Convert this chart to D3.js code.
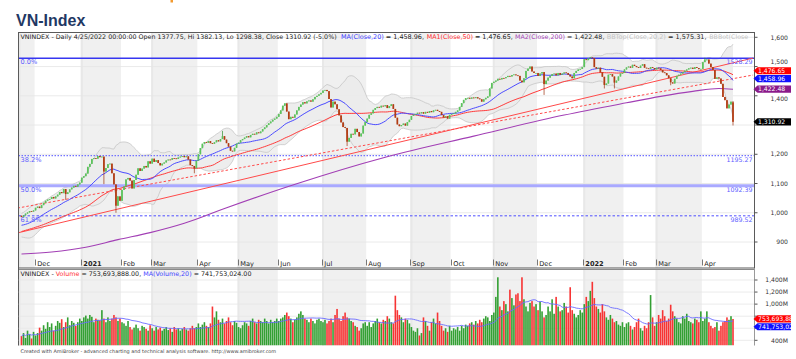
<!DOCTYPE html>
<html><head><meta charset="utf-8">
<script src="https://cdn.jsdelivr.net/npm/d3@7/dist/d3.min.js"></script>
<style>html,body{margin:0;padding:0;background:#fff;}svg{display:block;}</style>
</head><body>
<svg id="chart" width="796" height="359"></svg>
<script>
// ---------------- DATA ----------------
// closes before the visible window (used only to compute MA20/MA50/Bollinger)
const preCloses=[885,889,894,898,902,905,904,900,907,910,908,906,903,905,909,907,
912,916,920,924,930,935,940,944,946,950,948,955,960,958,962,964,961,955,948,940,930,925,
927,933,941,948,955,960,965,972,978,985,983,990];
// daily closes, 20 Nov 2020 .. 25 Apr 2022
const closes=[
985,991,997,1001,1006,1004,1008,
1017,1021,1016,1026,1034,1041,1045,1047,1054,1049,1056,1062,1071,1067,1081,1064,1070,1080,1086,1092,1089,1097,1103,
1120,1125,1134,1157,1167,1184,1187,1185,1194,1190,1192,1141,1153,1166,1168,1135,1097,1024,1056,1041,
1078,1090,1114,1119,1110,1083,1112,1130,1152,1143,1151,1160,1155,1176,1168,
1185,1174,1180,1170,1162,1168,1172,1179,1182,1181,1187,1186,1184,1189,1192,1194,1190,1193,1182,1163,1160,1152,1178,
1200,1221,1236,1242,1239,1245,1238,1236,1241,1248,1244,1252,1262,1250,1238,1226,1212,1210,1222,1236,
1240,1248,1252,1257,1262,1258,1266,1270,1268,1275,1272,1278,1286,1292,1300,1306,1312,1318,1322,1328,
1338,1350,1366,1374,1346,1320,1328,1325,1336,1350,1362,1370,1378,1374,1381,1384,1380,1388,1396,1400,1405,1410,
1418,1420,1416,1389,1360,1380,1371,1354,1333,1309,1293,1290,1243,1256,1270,1268,1287,1276,1261,1271,1298,1310,
1322,1335,1340,1352,1358,1362,1360,1366,1364,1368,1358,1365,1371,1355,1325,1302,1296,1300,1305,1298,1310,1318,
1331,1335,1338,1342,1340,1344,1339,1345,1342,1348,1344,1350,1352,1348,1345,1334,1326,1330,1322,1335,
1338,1340,1345,1350,1362,1375,1386,1392,1393,1390,1394,1392,1395,1391,1388,1380,1388,1393,1398,1425,1444,
1448,1452,1458,1456,1461,1460,1464,1468,1466,1471,1473,1470,1468,1452,1446,1460,1485,1493,1500,1483,1478,1478,
1468,1476,1481,1440,1452,1462,1468,1474,1476,1470,1478,1472,1476,1480,1478,1472,1466,1460,1478,1485,1490,1492,1498,
1525,1522,1528,1531,1529,1498,1493,1496,1480,1465,1437,1442,1472,1474,1466,1445,1452,1466,1476,1478,
1490,1497,1500,1496,1506,1502,1498,1495,1503,1508,1496,1494,1492,1498,1495,1490,
1496,1494,1488,1480,1478,1470,1460,1446,1442,1458,1468,1472,1476,1481,1486,1490,1494,1496,1492,1498,1495,1491,1492,
1515,1522,1524,1510,1498,1488,1458,1463,1459,1441,1396,1385,1357,1370,1379.9,1310.92];
// daily volume, millions of shares
const volumes=[
470,520,440,560,500,430,540,
480,520,610,560,650,590,700,620,680,560,640,720,690,750,620,700,780,650,720,690,640,700,760,
720,780,810,760,820,790,700,760,740,730,900,760,700,780,720,760,820,780,720,760,
700,680,640,720,620,580,610,660,600,560,640,620,590,560,650,
600,560,620,580,610,560,590,620,570,600,540,620,580,600,560,590,620,580,560,600,640,600,620,
680,620,660,700,640,620,680,960,780,880,740,700,760,680,720,780,700,650,720,690,
620,600,650,700,680,640,720,760,700,680,740,720,700,760,720,680,740,700,720,760,
720,760,780,820,860,800,760,700,740,780,840,880,820,760,740,700,760,720,680,740,760,720,
700,740,680,720,760,700,820,920,760,720,800,860,780,760,720,700,640,620,560,600,680,700,
640,700,620,680,720,760,700,680,740,720,800,760,700,680,1140,900,820,780,700,760,740,680,
620,560,540,600,480,520,780,720,640,560,700,760,680,860,720,640,560,600,540,640,
560,600,580,620,560,640,600,660,640,680,700,660,720,680,740,700,760,800,780,720,820,
860,1120,1445,960,900,1050,1000,880,1240,1100,980,1160,1180,1050,1445,1080,960,880,1020,1050,960,1000,
900,1040,880,780,820,960,880,1080,840,1120,960,880,900,1020,960,860,1280,900,840,780,820,900,860,
1000,1120,1050,1220,1370,1100,960,920,860,1000,880,780,740,820,760,700,720,660,640,700,
620,680,700,640,580,620,700,760,600,560,640,600,700,1150,780,640,
700,820,760,900,800,720,760,990,880,800,760,700,680,800,760,840,720,700,680,760,740,700,880,
720,760,880,700,640,600,620,700,560,640,700,720,780,740,800,753.69];
const lastBar={open:1377.75,high:1382.13,low:1298.38,close:1310.92};
const wickLows=[[22,1044],[41,1098],[47,1000],[86,1135],[162,1228],[260,1403],[290,1425],[295,1425],[323,1436]];
const wickHighs=[[100,1280],[283,1533],[340,1530]];
// MA(Close,200): [bar index, value]
const ma200Points=[[0,859],[15,866],[32,882],[48,908],[64,932],[81,964],[100,1012],[135,1095],[181,1190],[225,1262],[270,1334],[301,1376],[318,1398],[334,1415],[347,1425],[354,1422.48]];
// straight trend lines: [bar index, price]
const trendSolid=[[-2,931],[364,1529]];
const trendDashed=[[-2,1016],[364,1471]];
const fibPercents=["0.0%","38.2%","50.0%","61.8%"];
const fibValues=[1528.29,1195.27,1092.39,989.52];
const monthLabels=["Dec","2021","Feb","Mar","Apr","May","Jun","Jul","Aug","Sep","Oct","Nov","Dec","2022","Feb","Mar","Apr"];
const monthStartIdx=[7,30,50,65,88,108,128,150,172,194,214,235,257,280,300,316,339];
const shadedMonths=[[-3,6],[30,49],[65,87],[108,127],[150,171],[194,213],[235,256],[280,299],[316,338]];
const priceTicks=[900,1000,1100,1200,1300,1400,1500,1600];
const volTicks=[400,600,800,1000,1200,1400];
const headerNames=["MA(Close,20)","MA1(Close,50)","MA2(Close,200)","BBTop(Close,20,2)","BBBot(Close"];
const headerValues=[1458.96,1476.65,1422.48,1575.31];
const volHeaderValues=[753693888.00,741753024.00];

// ---------------- LAYOUT ----------------
const svg=d3.select("#chart");
const SM="'DejaVu Sans', Verdana, sans-serif";
const L=18.5,R=754.5,T=32.5,PB=259,AXB=268;
const VT=270,VB=345.5;
const N=closes.length;
const x=d3.scaleLinear().domain([0,N-1]).range([21.5,733]);
const y=d3.scaleLinear().domain([900,1600]).range([242,37.3]);
const yv=d3.scaleLinear().domain([400,1400]).range([340.3,280]);
const step=x(1)-x(0);

// fit a text to a target width: scale font size (bounded), then letter-spacing for the rest
function fitWidth(sel,target,maxFs){
  const n=sel.node();
  let fs=+sel.attr("font-size");
  let w=n.getComputedTextLength();
  if(w>0){
    const nf=Math.min(maxFs||fs*1.2, Math.max(fs*0.85, fs*target/w));
    sel.attr("font-size",nf.toFixed(2));
    w=n.getComputedTextLength();
    const len=n.textContent.length;
    if(len>1 && Math.abs(target-w)>0.5) sel.attr("letter-spacing",((target-w)/len).toFixed(3)+"px");
  }
}

const defs=svg.append("defs");
defs.append("clipPath").attr("id","pclip").append("rect").attr("x",L).attr("y",T).attr("width",R-L).attr("height",PB-T);
defs.append("clipPath").attr("id","vclip").append("rect").attr("x",L).attr("y",VT).attr("width",R-L).attr("height",VB-VT);
defs.append("clipPath").attr("id","boxclip").append("rect").attr("x",750).attr("y",0).attr("width",41.5).attr("height",359);

// small orange mark at top (cropped glyph)
svg.append("rect").attr("x",170.5).attr("y",0).attr("width",2.5).attr("height",2.5).attr("fill","#f39a2e");

// title
svg.append("text").attr("x",16).attr("y",26).attr("font-family","Arial, 'Liberation Sans', sans-serif")
  .attr("font-weight","bold").attr("font-size",16).attr("fill","#1f3864").text("VN-Index");

// ---------------- INDICATORS ----------------
const all=preCloses.concat(closes);
const off=preCloses.length;
function sma(arr,i,n){let s=0,c=0;for(let k=Math.max(0,i-n+1);k<=i;k++){s+=arr[k];c++;}return s/c;}
function sdev(arr,i,n,m){let s=0,c=0;for(let k=Math.max(0,i-n+1);k<=i;k++){s+=(arr[k]-m)*(arr[k]-m);c++;}return Math.sqrt(s/c);}
const ind=closes.map((c,i)=>{const j=i+off;const m20=sma(all,j,20);const m50=sma(all,j,50);const s=sdev(all,j,20,m20);
  return {i,m20,m50,up:m20+2*s,lo:m20-2*s};});
const wl=new Map(wickLows), wh=new Map(wickHighs);
const candles=closes.map((c,i)=>{
  let o=i===0?preCloses[off-1]:closes[i-1];
  let h=Math.max(o,c), l=Math.min(o,c);
  if(i===N-1){o=lastBar.open;h=lastBar.high;l=lastBar.low;}
  if(wl.has(i)) l=Math.min(l,wl.get(i));
  if(wh.has(i)) h=Math.max(h,wh.get(i));
  return {i,o,h,l,c,upDay:c>=o};
});
const volMA=volumes.map((v,i)=>({i,v:sma(volumes,i,20)}));

// ---------------- BACKGROUND BANDS ----------------
const bandG=svg.append("g");
shadedMonths.forEach(([a,b])=>{
  const x0=Math.max(L,x(a)-step/2), x1=Math.min(R,x(b)+step/2);
  [[T,AXB],[VT,VB]].forEach(([t,bt])=>{
    bandG.append("rect").attr("x",x0).attr("y",t).attr("width",x1-x0).attr("height",bt-t).attr("fill","#f0f0f0");
    bandG.append("rect").attr("x",x0).attr("y",t).attr("width",2).attr("height",bt-t).attr("fill","#e8e8e8");
  });
});

// ---------------- PRICE PANEL ----------------
const pg=svg.append("g").attr("clip-path","url(#pclip)");
pg.selectAll("line.grid").data(priceTicks).join("line").attr("class","grid")
  .attr("x1",L).attr("x2",R).attr("y1",d=>y(d)).attr("y2",d=>y(d)).attr("stroke","#e4e4e4").attr("stroke-width",0.8);

// Bollinger band
pg.append("path").datum(ind).attr("fill","#ebebeb").attr("fill-opacity",0.9)
  .attr("d",d3.area().x(d=>x(d.i)).y0(d=>y(d.lo)).y1(d=>y(d.up)));
["up","lo"].forEach(k=>pg.append("path").datum(ind).attr("fill","none").attr("stroke","#c6c6c6").attr("stroke-width",0.8)
  .attr("d",d3.line().x(d=>x(d.i)).y(d=>y(d[k]))));

// fibonacci lines
const fibStyle=[{c:"#3636f0",w:1.6,d:null},{c:"#7272ff",w:1.3,d:"1.5,1.5"},{c:"#a9a9ff",w:3,d:null},{c:"#4f4fff",w:1,d:"2.5,2"}];
fibValues.forEach((v,k)=>{
  const st=fibStyle[k];
  pg.append("line").attr("x1",L).attr("x2",R).attr("y1",y(v)).attr("y2",y(v))
    .attr("stroke",st.c).attr("stroke-width",st.w).attr("stroke-dasharray",st.d);
});

// trend lines
const tl=d3.line().x(d=>x(d[0])).y(d=>y(d[1]));
pg.append("path").datum(trendSolid).attr("d",tl).attr("fill","none").attr("stroke","#ff4a4a").attr("stroke-width",1);
pg.append("path").datum(trendDashed).attr("d",tl).attr("fill","none").attr("stroke","#ff4a4a").attr("stroke-width",1).attr("stroke-dasharray","2.5,2");

// moving averages
pg.append("path").datum(ma200Points).attr("fill","none").attr("stroke","#a23fb5").attr("stroke-width",1.1)
  .attr("d",d3.line().curve(d3.curveMonotoneX).x(d=>x(d[0])).y(d=>y(d[1])));
pg.append("path").datum(ind).attr("fill","none").attr("stroke","#ff3b3b").attr("stroke-width",1)
  .attr("d",d3.line().x(d=>x(d.i)).y(d=>y(d.m50)));
pg.append("path").datum(ind).attr("fill","none").attr("stroke","#4b4bff").attr("stroke-width",1)
  .attr("d",d3.line().x(d=>x(d.i)).y(d=>y(d.m20)));

// candles
const cg=pg.append("g");
cg.selectAll("line.wick").data(candles).join("line").attr("class","wick")
  .attr("x1",d=>x(d.i)).attr("x2",d=>x(d.i)).attr("y1",d=>y(d.h)).attr("y2",d=>y(d.l))
  .attr("stroke",d=>d.upDay?"#2c8f2c":"#9c2f0c").attr("stroke-width",0.7);
cg.selectAll("rect.body").data(candles).join("rect").attr("class","body")
  .attr("x",d=>x(d.i)-0.85).attr("width",1.7)
  .attr("y",d=>y(Math.max(d.o,d.c))).attr("height",d=>Math.max(0.8,Math.abs(y(d.o)-y(d.c))))
  .attr("fill",d=>d.upDay?"#5cc45c":"#b23b12");

// fib labels
fibValues.forEach((v,k)=>{
  svg.append("text").attr("x",20.5).attr("y",y(v)+6).attr("font-family",SM).attr("font-size",6.6)
    .attr("fill","#5c5cff").text(fibPercents[k]);
  svg.append("text").attr("x",752.5).attr("y",y(v)+6.2).attr("text-anchor","end").attr("font-family",SM).attr("font-size",6.3)
    .attr("fill","#5c5cff").text(d3.format(".2f")(v));
});

// header text (segments placed where the reference shows them)
const f2=d3.format(",.2f");
const chg=(lastBar.close/closes[N-2]-1)*100;
const hx=[20.5,341,426.7,515,606.7,709.3];
const hw=[316,83,86,89.5,100,39];
const hcol=["#3f3fff","#ff3030","#a23fb5","#c4c4c4","#c4c4c4"];
const seg0=svg.append("text").attr("x",hx[0]).attr("y",38.6).attr("font-family",SM).attr("font-size",6.5).attr("fill","#222")
  .text(`VNINDEX - Daily 4/25/2022 00:00:00 Open ${lastBar.open.toFixed(2)}, Hi ${lastBar.high.toFixed(2)}, Lo ${lastBar.low.toFixed(2)}, Close ${lastBar.close.toFixed(2)} (${chg.toFixed(1)}%)`);
fitWidth(seg0,hw[0],7.3);
headerNames.forEach((nm,k)=>{
  const t=svg.append("text").attr("x",hx[k+1]).attr("y",38.6).attr("font-family",SM).attr("font-size",6.5).attr("fill","#222");
  t.append("tspan").attr("fill",hcol[k]).text(nm);
  if(k<headerValues.length) t.append("tspan").text(` = ${f2(headerValues[k])},`);
  fitWidth(t,hw[k+1],7.0);
});

// month axis
const ag=svg.append("g");
monthLabels.forEach((m,k)=>{
  const xx=Math.round(x(monthStartIdx[k])-step/2)+0.5;
  ag.append("line").attr("x1",xx).attr("x2",xx).attr("y1",259.5).attr("y2",265.5).attr("stroke","#555").attr("stroke-width",0.8);
  ag.append("text").attr("x",xx+1.8).attr("y",265.8).attr("font-family",SM).attr("font-size",6.6)
    .attr("font-weight",/^\d+$/.test(m)?"bold":"normal").attr("fill","#222").text(m);
});

// frames
svg.append("rect").attr("x",L).attr("y",T).attr("width",R-L).attr("height",AXB-T).attr("fill","none").attr("stroke","#5a5a5a").attr("stroke-width",1);
svg.append("line").attr("x1",L).attr("x2",R).attr("y1",AXB+1.5).attr("y2",AXB+1.5).attr("stroke","#8a8a8a").attr("stroke-width",1);
svg.append("line").attr("x1",L).attr("x2",L).attr("y1",AXB).attr("y2",VB).attr("stroke","#5a5a5a");
svg.append("line").attr("x1",R).attr("x2",R).attr("y1",AXB).attr("y2",VB).attr("stroke","#9a9a9a");

// value boxes
function placeBoxes(items,sep){
  const placed=[];
  items.forEach(it=>{
    let yy=it.y, moved=true, guard=0;
    while(moved && guard<10){moved=false;guard++;
      for(const p of placed){ if(Math.abs(yy-p.yy)<sep-0.01){ yy=(it.y<p.y)? p.yy-sep : p.yy+sep; moved=true; } }
    }
    it.yy=yy; placed.push(it);
  });
  return placed;
}
function drawBox(it){
  const x0=753.5,x1=791,hh=3.6;
  svg.append("path").attr("d",`M${x0},${it.yy} L${x0+4},${it.yy-hh} L${x1},${it.yy-hh} L${x1},${it.yy+hh} L${x0+4},${it.yy+hh} Z`)
    .attr("fill",it.col);
  svg.append("text").attr("clip-path","url(#boxclip)").attr("x",x0+4.5).attr("y",it.yy+2.2).attr("font-family",SM).attr("font-size",6.1)
    .attr("fill","#fff").text(it.txt);
}
function axisLabels(ticks,scale,fmt,boxes){
  ticks.forEach(v=>{
    let yy=scale(v);
    svg.append("line").attr("x1",R).attr("x2",R+3).attr("y1",yy).attr("y2",yy).attr("stroke","#555");
    let hide=false;
    boxes.forEach(b=>{const d=yy-b.yy; if(Math.abs(d)<3.5) hide=true; else if(Math.abs(d)<9) yy=b.yy+(d>0?10:-8.5);});
    if(hide) return;
    svg.append("text").attr("x",788).attr("y",yy+2.2).attr("text-anchor","end").attr("font-family",SM).attr("font-size",6.1)
      .attr("fill","#333").text(fmt(v));
  });
}
const priceBoxes=placeBoxes([
  {y:y(lastBar.close),col:"#000",txt:f2(lastBar.close)},
  {y:y(headerValues[0]),col:"#1010ff",txt:f2(headerValues[0])},
  {y:y(headerValues[1]),col:"#ff0000",txt:f2(headerValues[1])},
  {y:y(headerValues[2]),col:"#8a1a8a",txt:f2(headerValues[2])}
],7.8);
axisLabels(priceTicks,y,d3.format(","),priceBoxes);
priceBoxes.forEach(drawBox);

// ---------------- VOLUME PANEL ----------------
const vg=svg.append("g").attr("clip-path","url(#vclip)");
vg.selectAll("line.vgrid").data(volTicks).join("line").attr("class","vgrid")
  .attr("x1",L).attr("x2",R).attr("y1",d=>yv(d)).attr("y2",d=>yv(d)).attr("stroke","#e6e6e6").attr("stroke-width",0.8);
vg.selectAll("rect.vol").data(volumes).join("rect").attr("class","vol")
  .attr("x",(d,i)=>x(i)-0.8).attr("width",1.6)
  .attr("y",d=>yv(d)).attr("height",d=>Math.max(0,VB-yv(d)))
  .attr("fill",(d,i)=>candles[i].upDay?"#33a033":"#f73434");
vg.append("path").datum(volMA).attr("fill","none").attr("stroke","#6a6aff").attr("stroke-width",0.9)
  .attr("d",d3.line().x(d=>x(d.i)).y(d=>yv(d.v)));

const vh=svg.append("text").attr("x",20.5).attr("y",276.2).attr("font-family",SM).attr("font-size",6.3).attr("fill","#222");
vh.append("tspan").text("VNINDEX - ");
vh.append("tspan").attr("fill","#ff3030").text("Volume");
vh.append("tspan").text(` = ${f2(volHeaderValues[0])}, `);
vh.append("tspan").attr("fill","#3f3fff").text("MA(Volume,20)");
vh.append("tspan").text(` = ${f2(volHeaderValues[1])}`);
fitWidth(vh,231,6.8);

const volBoxes=placeBoxes([
  {y:yv(volHeaderValues[0]/1e6),col:"#ff0000",txt:f2(volHeaderValues[0])},
  {y:yv(volHeaderValues[1]/1e6),col:"#1010ff",txt:f2(volHeaderValues[1])}
],7.8);
axisLabels(volTicks,yv,v=>d3.format(",")(v)+"M",volBoxes);
volBoxes.forEach(drawBox);

// footer
const ft=svg.append("text").attr("x",20.5).attr("y",352.6).attr("font-family",SM).attr("font-size",5.3).attr("fill","#444")
  .text("Created with AmiBroker - advanced charting and technical analysis software. http://www.amibroker.com");
fitWidth(ft,256,5.6);
</script>
</body></html>
